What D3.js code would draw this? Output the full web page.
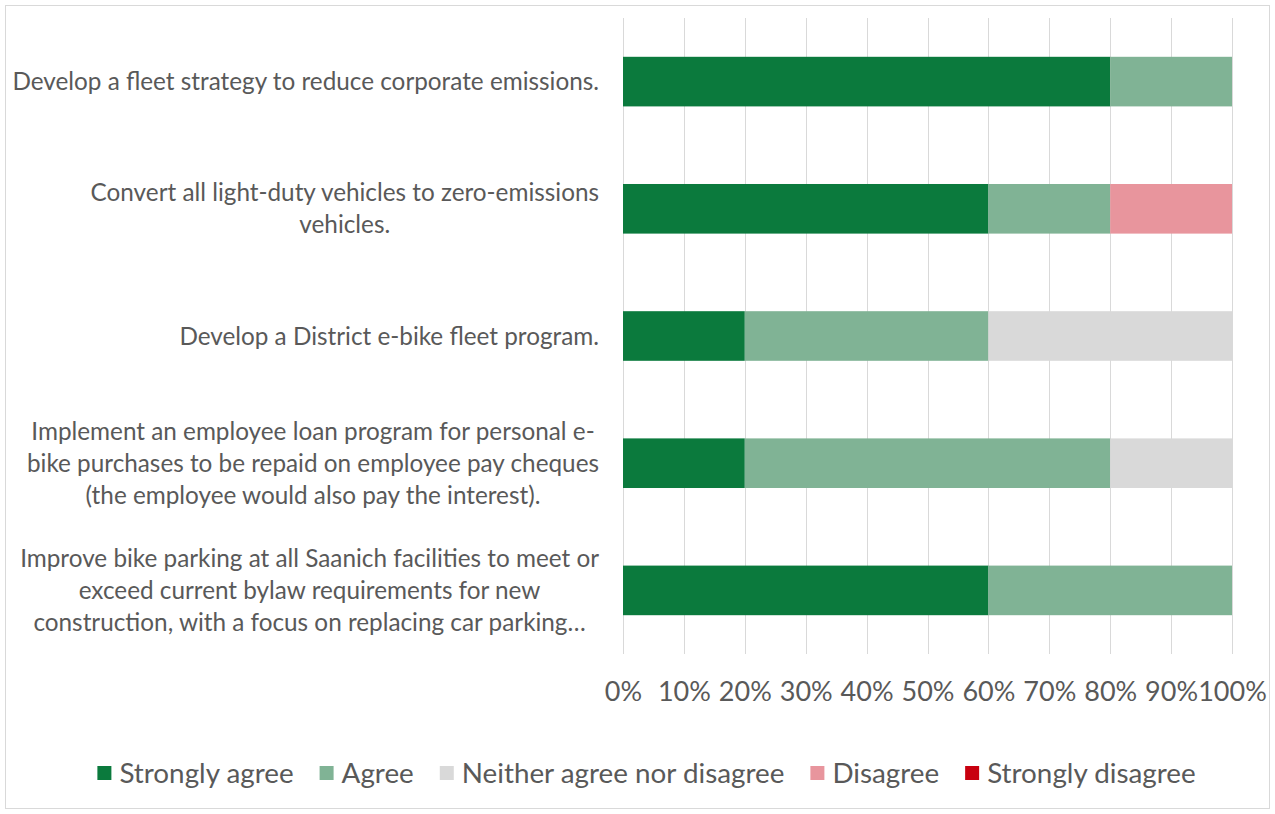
<!DOCTYPE html>
<html>
<head>
<meta charset="utf-8">
<script src="https://cdn.jsdelivr.net/npm/d3@7/dist/d3.min.js"></script>
<style>
  html, body { margin: 0; padding: 0; background: #ffffff; }
  svg { display: block; }
  text { font-family: Lato, "Open Sans", sans-serif; fill: #595959; }
</style>
</head>
<body>
<svg id="chart" width="1275" height="814"></svg>
<script>
// Survey responses (% of respondents) per action
const categories = [
  ["Develop a fleet strategy to reduce corporate emissions."],
  ["Convert all light-duty vehicles to zero-emissions", "vehicles."],
  ["Develop a District e-bike fleet program."],
  ["Implement an employee loan program for personal e-", "bike purchases to be repaid on employee pay cheques", "(the employee would also pay the interest)."],
  ["Improve bike parking at all Saanich facilities to meet or", "exceed current bylaw requirements for new", "construction, with a focus on replacing car parking…"]
];
const seriesNames = ["Strongly agree", "Agree", "Neither agree nor disagree", "Disagree", "Strongly disagree"];
const stronglyAgree    = [80, 60, 20, 20, 60];
const agree            = [20, 20, 40, 60, 40];
const neither          = [0, 0, 40, 20, 0];
const disagree         = [0, 20, 0, 0, 0];
const stronglyDisagree = [0, 0, 0, 0, 0];
const tickValues = [0, 10, 20, 30, 40, 50, 60, 70, 80, 90, 100];
const colors = ["#0b7a3d", "#80b395", "#d9d9d9", "#e8959d", "#c8000f"];

const svg = d3.select("#chart");
const W = 1275, H = 814;

// Outer chart frame
svg.append("rect")
  .attr("x", 5.5).attr("y", 5.5).attr("width", W - 11).attr("height", H - 11)
  .attr("fill", "#fff").attr("stroke", "#d9d9d9").attr("stroke-width", 1);

const plot = { left: 623, right: 1232, top: 18, bottom: 654 };

const x = d3.scaleLinear().domain([0, 100]).range([plot.left, plot.right]);
const y = d3.scaleBand()
  .domain(d3.range(categories.length))
  .range([plot.top, plot.bottom])
  .paddingInner(0.61).paddingOuter(0.305);

// Vertical gridlines
svg.append("g")
  .selectAll("line")
  .data(tickValues)
  .join("line")
  .attr("x1", d => Math.round(x(d)) + 0.5).attr("x2", d => Math.round(x(d)) + 0.5)
  .attr("y1", plot.top).attr("y2", plot.bottom)
  .attr("stroke", "#d9d9d9").attr("stroke-width", 1);

// Stack the series
const rows = categories.map((c, i) => ({
  "Strongly agree": stronglyAgree[i],
  "Agree": agree[i],
  "Neither agree nor disagree": neither[i],
  "Disagree": disagree[i],
  "Strongly disagree": stronglyDisagree[i],
  idx: i
}));
const stacked = d3.stack().keys(seriesNames)(rows);

svg.append("g")
  .selectAll("g")
  .data(stacked)
  .join("g")
  .attr("fill", (d, i) => colors[i])
  .selectAll("rect")
  .data(d => d.filter(s => s[1] - s[0] > 0))
  .join("rect")
  .attr("x", d => x(d[0]))
  .attr("width", d => x(d[1]) - x(d[0]))
  .attr("y", d => y(d.data.idx))
  .attr("height", y.bandwidth());

// X axis tick labels
const xAxis = d3.axisBottom(x).tickValues(tickValues).tickFormat(d => d + "%").tickSize(0).tickPadding(0);
const gx = svg.append("g").attr("transform", `translate(0, ${plot.bottom})`).call(xAxis);
gx.select(".domain").remove();
gx.selectAll("text")
  .attr("y", 38).attr("dy", "0.35em")
  .style("font-size", "27px").style("font-family", "Lato, sans-serif").attr("fill", "#595959");

// Category labels: lines centred within a block right-aligned against the plot
const labelRight = 599, lineH = 32;
const labelG = svg.append("g").style("font-size", "24.3px");
categories.forEach((lines, i) => {
  const cy = y(i) + y.bandwidth() / 2;
  const g = labelG.append("g");
  const texts = lines.map((ln, j) => g.append("text")
    .attr("y", cy + (j - (lines.length - 1) / 2) * lineH)
    .attr("dy", "0.35em")
    .attr("text-anchor", "middle")
    .text(ln));
  const maxW = d3.max(texts, t => t.node().getComputedTextLength());
  texts.forEach(t => t.attr("x", labelRight - maxW / 2));
});

// Legend
const legendY = 773, sw = 14, gapSwatch = 8, gapItem = 26;
const legend = svg.append("g").style("font-size", "27.8px");
const items = seriesNames.map((name, i) => {
  const g = legend.append("g");
  g.append("rect").attr("width", sw).attr("height", sw).attr("y", legendY - sw / 2).attr("fill", colors[i]);
  const t = g.append("text").attr("x", sw + gapSwatch).attr("y", legendY).attr("dy", "0.35em").text(name);
  return { g, w: sw + gapSwatch + t.node().getComputedTextLength() };
});
const total = d3.sum(items, d => d.w) + gapItem * (items.length - 1);
let cx = 646.5 - total / 2;
items.forEach(it => {
  it.g.attr("transform", `translate(${cx}, 0)`);
  cx += it.w + gapItem;
});
</script>
</body>
</html>
